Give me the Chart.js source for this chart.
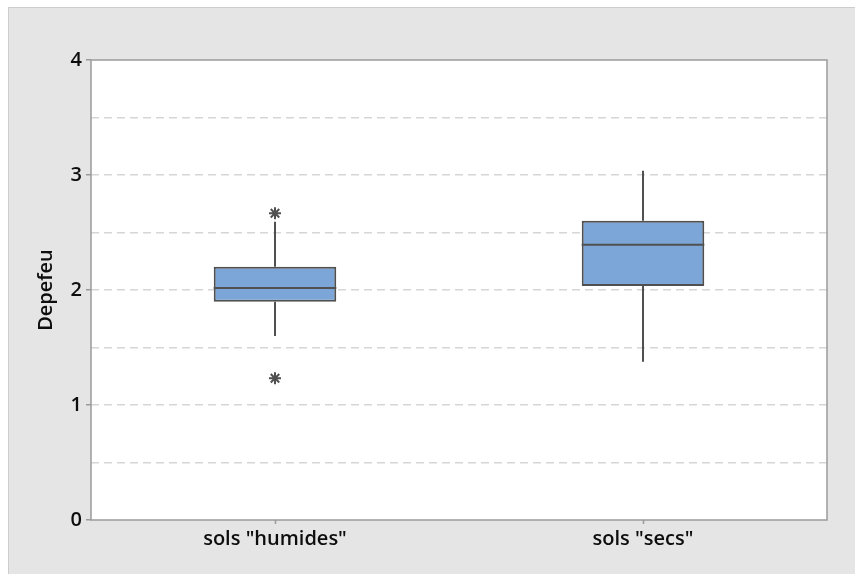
<!DOCTYPE html>
<html>
<head>
<meta charset="utf-8">
<script src="https://cdn.jsdelivr.net/npm/chart.js@4"></script>
<style>
  html, body { margin: 0; padding: 0; background: #ffffff; }
  #wrap { position: relative; width: 855px; height: 574px; overflow: hidden; }
  #panel { position: absolute; left: 8px; top: 7px; width: 847px; height: 567px;
           background: #e5e5e5; border-left: 1px solid #cdcdcd; border-top: 1px solid #cdcdcd; box-sizing: border-box; }
  #c { position: absolute; left: 0; top: 0; }
</style>
</head>
<body>
<div id="wrap">
  <div id="panel"></div>
  <canvas id="c" width="855" height="574"></canvas>
</div>
<script>
// ---- data ----
const categories = ['sols "humides"', 'sols "secs"'];
const q1 = [1.898, 2.035];
const median = [2.017, 2.394];
const q3 = [2.203, 2.603];
const whiskerLow = [1.600, 1.377];
const whiskerHigh = [2.594, 3.037];
const outlierCategory = ['sols "humides"', 'sols "humides"'];
const outlierValue = [2.667, 1.232];
const yTickValues = [0, 1, 2, 3, 4];
const yAxisTitle = 'Depefeu';

const lineColor = '#505050';
const frameColor = '#9a9a9a';
const textColor = '#0d0d0d';

const boxPlotPlugin = {
  id: 'boxExtras',
  beforeDraw(chart) {
    const a = chart.chartArea;
    const ctx = chart.ctx;
    ctx.save();
    ctx.fillStyle = '#ffffff';
    ctx.fillRect(a.left, a.top, a.right - a.left, a.bottom - a.top);
    ctx.restore();
  },
  afterDatasetsDraw(chart) {
    const ctx = chart.ctx;
    const meta = chart.getDatasetMeta(0);
    const y = chart.scales.y;
    ctx.save();
    ctx.strokeStyle = lineColor;
    ctx.lineWidth = 2;
    meta.data.forEach((bar, i) => {
      const props = bar.getProps(['x', 'width'], true);
      const cx = Math.round(props.x);
      const half = props.width / 2;
      ctx.beginPath();
      ctx.moveTo(cx, y.getPixelForValue(q3[i]));
      ctx.lineTo(cx, y.getPixelForValue(whiskerHigh[i]));
      ctx.stroke();
      ctx.beginPath();
      ctx.moveTo(cx, y.getPixelForValue(q1[i]));
      ctx.lineTo(cx, y.getPixelForValue(whiskerLow[i]));
      ctx.stroke();
      ctx.beginPath();
      const my = y.getPixelForValue(median[i]);
      ctx.moveTo(props.x - half, my);
      ctx.lineTo(props.x + half, my);
      ctx.stroke();
    });
    ctx.restore();
  },
  afterDraw(chart) {
    const a = chart.chartArea;
    const ctx = chart.ctx;
    ctx.save();
    ctx.strokeStyle = frameColor;
    ctx.lineWidth = 1.5;
    ctx.strokeRect(a.left, a.top, a.right - a.left, a.bottom - a.top);
    ctx.restore();
  }
};

new Chart(document.getElementById('c'), {
  type: 'bar',
  data: {
    labels: categories,
    datasets: [
      {
        type: 'bar',
        data: q1.map((v, i) => [v, q3[i]]),
        backgroundColor: '#7da6d8',
        borderColor: lineColor,
        borderWidth: 2,
        borderSkipped: false,
        barPercentage: 0.333,
        categoryPercentage: 1.0,
        order: 2
      },
      {
        type: 'line',
        data: outlierCategory.map((c, i) => ({ x: c, y: outlierValue[i] })),
        showLine: false,
        pointStyle: 'star',
        pointRadius: 6,
        pointBorderColor: lineColor,
        pointBackgroundColor: lineColor,
        pointBorderWidth: 2,
        order: 1
      }
    ]
  },
  options: {
    responsive: false,
    animation: false,
    devicePixelRatio: 1,
    layout: { padding: { top: 60, right: 28, left: 30, bottom: 0 } },
    plugins: { legend: { display: false }, tooltip: { enabled: false } },
    scales: {
      x: {
        type: 'category',
        offset: true,
        border: { display: false },
        grid: {
          drawOnChartArea: false,
          offset: false,
          tickLength: 4,
          tickColor: frameColor,
          tickWidth: 1.5
        },
        ticks: {
          color: textColor,
          font: { family: 'Open Sans', size: 20, weight: '600' },
          padding: 3,
          maxRotation: 0
        },
        afterFit(scale) { scale.height = 54; }
      },
      y: {
        min: 0,
        max: 4,
        border: { display: false, dash: [8, 5] },
        afterBuildTicks(scale) {
          const t = [];
          for (let v = 0; v <= 4; v += 0.5) t.push({ value: v });
          scale.ticks = t;
        },
        ticks: {
          autoSkip: false,
          color: textColor,
          font: { family: 'Open Sans', size: 20, weight: '600' },
          padding: 4,
          callback: (v) => yTickValues.includes(v) ? String(v) : ''
        },
        grid: {
          color: (c) => (c.tick && (c.tick.value === 0 || c.tick.value === 4)) ? 'rgba(0,0,0,0)' : '#d6d6d6',
          lineWidth: 1.5,
          tickLength: 5,
          tickWidth: 1.5,
          tickBorderDash: [],
          tickColor: (c) => (c.tick && Number.isInteger(c.tick.value)) ? frameColor : 'rgba(0,0,0,0)'
        },
        title: {
          display: true,
          text: yAxisTitle,
          color: textColor,
          font: { family: 'Open Sans', size: 20, weight: '600' },
          padding: { top: 4, bottom: 4 }
        },
        afterFit(scale) { scale.width = 61; }
      }
    }
  },
  plugins: [boxPlotPlugin]
});
</script>
</body>
</html>
